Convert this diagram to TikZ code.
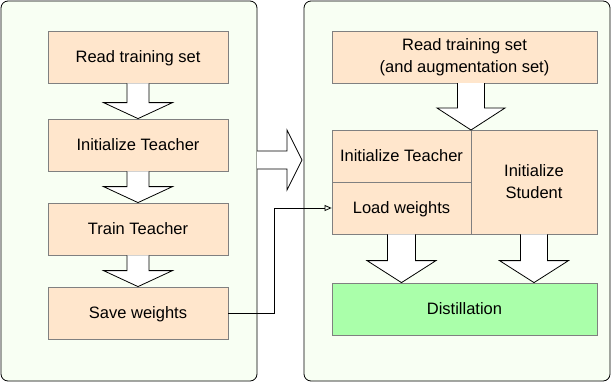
\documentclass[tikz,border=0pt]{standalone}
\usepackage{fontspec}
\setmainfont{Liberation Sans}
\usetikzlibrary{arrows.meta,calc}
\definecolor{boxfill}{HTML}{FFE6CC}
\definecolor{boxline}{HTML}{808080}
\definecolor{distfill}{HTML}{AAFFAA}
\definecolor{panelfill}{HTML}{F8FFF3}
\tikzset{
  panel/.style={draw=black, fill=panelfill, rounded corners=7pt, line width=0.8pt, minimum width=#1, inner sep=0pt, minimum height=380pt},
  stepbox/.style={draw=boxline, fill=boxfill, line width=0.8pt, inner sep=0pt, minimum width=#1, minimum height=52pt, font=\fontsize{16.5}{22}\selectfont, align=center},
  oneline/.style={text height=11.8pt, text depth=0pt},
  barrow/.style={draw=black, fill=white, line width=0.8pt, line join=miter},
  conn/.style={draw=black, line width=0.8pt, -{Triangle[open,length=7pt,width=6pt]}},
}
\newcommand{\vblock}[6]{% top coord, tip coord, shaft half, head half, head length, id
  \path let \p1=(#1), \p2=(#2) in
    coordinate (ta#6) at (\x1-#3,\y1) coordinate (tb#6) at (\x1+#3,\y1)
    coordinate (sa#6) at (\x1-#3,\y2+#5) coordinate (sb#6) at (\x1+#3,\y2+#5)
    coordinate (ha#6) at (\x1-#4,\y2+#5) coordinate (hb#6) at (\x1+#4,\y2+#5);
  \draw[barrow] (ta#6) -- (sa#6) -- (ha#6) -- (#2) -- (hb#6) -- (sb#6) -- (tb#6);
}
\begin{document}
\begin{tikzpicture}[x=1pt,y=-1pt]
\path[use as bounding box, fill=white] (0,0) rectangle (612,383);
% panels
\node[panel=256pt] (lp) at (129,191) {};
\node[panel=306pt] (rp) at (457,191) {};
% left boxes
\node[stepbox=180pt, oneline] (read) at (138,57) {Read training set};
\node[stepbox=180pt, oneline] (initT1) at (138,145) {Initialize Teacher};
\node[stepbox=180pt, oneline] (train) at (138,229) {Train Teacher};
\node[stepbox=180pt, oneline] (save) at (138,313) {Save weights};
% right boxes
\node[stepbox=265pt] (read2) at (464.5,57) {Read training set\\(and augmentation set)};
\node[stepbox=139pt, oneline] (initT2) at (401.5,156) {Initialize Teacher};
\node[stepbox=139pt, oneline] (load) at (401.5,208) {Load weights};
\node[stepbox=126pt, minimum height=104pt] (initS) at (534,182) {Initialize\\Student};
\node[stepbox=265pt, oneline, fill=distfill] (dist) at (464.5,309) {Distillation};
% block arrows left
\vblock{read.south}{initT1.north}{11}{34.5}{16}{a}
\vblock{initT1.south}{train.north}{11}{34.5}{16}{b}
\vblock{train.south}{save.north}{11}{34.5}{16}{c}
% block arrows right
\coordinate (r2b) at (471,83);
\coordinate (mt) at (471,130);
\vblock{r2b}{mt}{13.5}{34}{22}{d}
\vblock{load.south}{dist.north -| load.south}{14}{34.5}{22}{e}
\vblock{initS.south}{dist.north -| initS.south}{13.5}{34.5}{22}{f}
% big horizontal arrow
\coordinate (ht) at (302,160);
\draw[barrow] (257,151) -- (287,151) -- (287,130) -- (ht) -- (287,190) -- (287,169) -- (257,169);
% connector
\draw[conn] (save.east) -- ++(46,0) |- (load.west);
\end{tikzpicture}
\end{document}
